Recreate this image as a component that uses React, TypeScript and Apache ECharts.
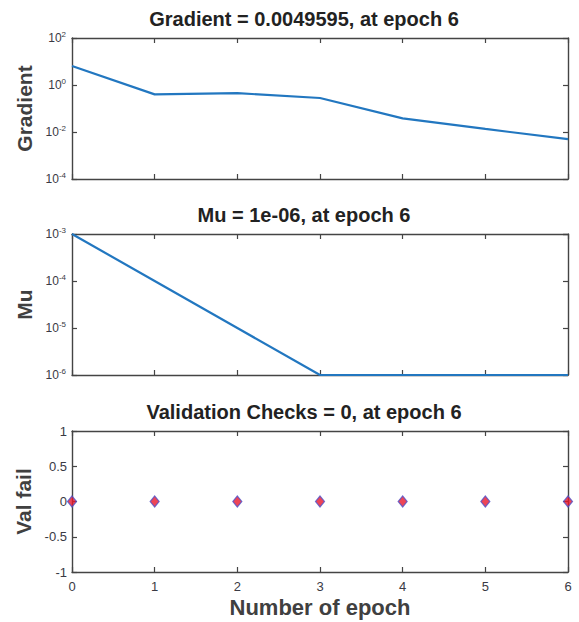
import React, { useEffect, useRef } from 'react';
import * as echarts from 'echarts';

const epochs = [0, 1, 2, 3, 4, 5, 6];
const gradientValues = [6.4, 0.4, 0.45, 0.28, 0.038, 0.0135, 0.0049595];
const muValues = [1e-3, 1e-4, 1e-5, 1e-6, 1e-6, 1e-6, 1e-6];
const valFailValues = [0, 0, 0, 0, 0, 0, 0];
const titles = [
  'Gradient = 0.0049595, at epoch 6',
  'Mu = 1e-06, at epoch 6',
  'Validation Checks = 0, at epoch 6',
];
const yNames = ['Gradient', 'Mu', 'Val fail'];
const xName = 'Number of epoch';

const FONT = '"Liberation Sans", Arial, Helvetica, sans-serif';
const AXIS_COLOR = '#444444';
const LABEL_COLOR = '#3a3a44';
const LINE_COLOR = '#2277c0';

const grids = [
  { left: 72, width: 496, top: 38, height: 141 },
  { left: 72, width: 496, top: 234, height: 141 },
  { left: 72, width: 496, top: 431, height: 141 },
];

const logLabel = (v: number) => {
  const e = Math.round(Math.log10(v));
  return `{b|10}{s|${e}}`;
};

export default function App() {
  const ref = useRef<HTMLDivElement>(null);
  useEffect(() => {
    document.body.style.margin = '0';
    if (!ref.current) return;
    const chart = echarts.init(ref.current, undefined, { renderer: 'svg' });

    const mkLine = () => ({ show: true, onZero: false, lineStyle: { color: AXIS_COLOR, width: 1.4 } });
    const mkTick = () => ({ show: true, inside: true, length: 5, lineStyle: { color: AXIS_COLOR, width: 1.2 } });
    const logRich = () => ({
      b: { fontSize: 12, fontFamily: FONT, color: LABEL_COLOR, lineHeight: 16 },
      s: { fontSize: 8, fontFamily: FONT, color: LABEL_COLOR, lineHeight: 16, verticalAlign: 'top', padding: [0, 0, 8, 0] },
    });

    const xAxes: any[] = [];
    const yAxes: any[] = [];
    grids.forEach((_, i) => {
      xAxes.push({
        type: 'value', gridIndex: i, min: 0, max: 6, interval: 1, position: 'bottom',
        axisLine: mkLine(), axisTick: mkTick(), splitLine: { show: false },
        axisLabel: { show: i === 2, fontSize: 13, fontFamily: FONT, color: LABEL_COLOR, margin: 8 },
        name: i === 2 ? xName : '', nameLocation: 'middle', nameGap: 24,
        nameTextStyle: { fontSize: 22, fontWeight: 'bold', fontFamily: FONT, color: '#404040' },
      });
      xAxes.push({
        type: 'value', gridIndex: i, min: 0, max: 6, interval: 1, position: 'top',
        axisLine: mkLine(), axisTick: mkTick(), splitLine: { show: false }, axisLabel: { show: false },
      });
    });
    const yConf = [
      { type: 'log', logBase: 10, min: 1e-4, max: 1e2, interval: 2 },
      { type: 'log', logBase: 10, min: 1e-6, max: 1e-3, interval: 1 },
      { type: 'value', min: -1, max: 1, interval: 0.5 },
    ];
    yConf.forEach((c, i) => {
      const label = i < 2
        ? { show: true, formatter: logLabel, rich: logRich(), margin: 6 }
        : { show: true, fontSize: 13, fontFamily: FONT, color: LABEL_COLOR, margin: 5 };
      yAxes.push({
        ...c, gridIndex: i, position: 'left',
        axisLine: mkLine(), axisTick: mkTick(), splitLine: { show: false }, minorTick: { show: false },
        axisLabel: label,
        name: yNames[i], nameLocation: 'middle', nameRotate: 90, nameGap: 36,
        nameTextStyle: { fontSize: 21, fontWeight: 'bold', fontFamily: FONT, color: '#404040' },
      });
      yAxes.push({
        ...c, gridIndex: i, position: 'right',
        axisLine: mkLine(), axisTick: mkTick(), splitLine: { show: false }, minorTick: { show: false },
        axisLabel: { show: false },
      });
    });

    const titleY = [19, 215, 412];
    chart.setOption({
      animation: false,
      grid: grids,
      xAxis: xAxes,
      yAxis: yAxes,
      graphic: titles.map((t, i) => ({
        type: 'text', x: 304, y: titleY[i],
        style: {
          text: t, fontSize: 20, fontWeight: 'bold', fontFamily: FONT, fill: '#222222',
          textAlign: 'center', textVerticalAlign: 'middle',
        },
      })),
      series: [
        {
          type: 'line', xAxisIndex: 0, yAxisIndex: 0,
          data: epochs.map((e, k) => [e, gradientValues[k]]),
          showSymbol: false, lineStyle: { color: LINE_COLOR, width: 2.2 }, clip: false,
        },
        {
          type: 'line', xAxisIndex: 2, yAxisIndex: 2,
          data: epochs.map((e, k) => [e, muValues[k]]),
          showSymbol: false, lineStyle: { color: LINE_COLOR, width: 2.2 }, clip: false,
        },
        {
          type: 'scatter', xAxisIndex: 4, yAxisIndex: 4,
          data: epochs.map((e, k) => [e, valFailValues[k]]),
          symbol: 'diamond', symbolSize: [9, 11], clip: false,
          itemStyle: { color: '#e8162c', borderColor: '#5050c8', borderWidth: 1.2 },
        },
      ],
    });
    return () => chart.dispose();
  }, []);
  return <div ref={ref} style={{ width: 579, height: 622 }} />;
}
